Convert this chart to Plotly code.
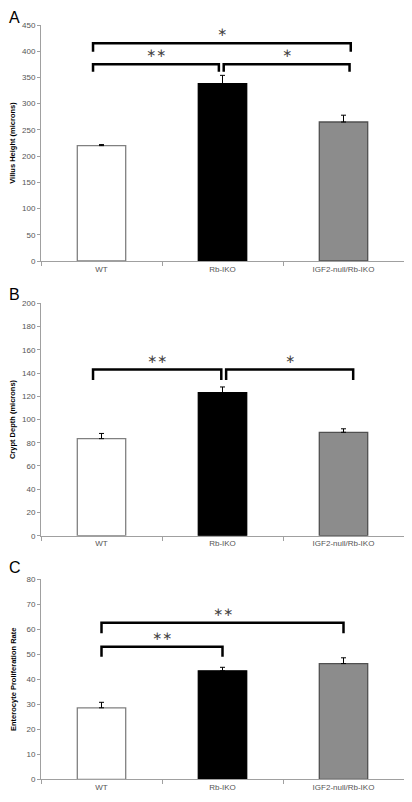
import plotly.graph_objects as go
from plotly.subplots import make_subplots

categories = ["WT", "Rb-IKO", "IGF2-null/Rb-IKO"]

villus_height = [220, 338, 265]
villus_err = [2, 16, 13]

crypt_depth = [83.5, 123, 89]
crypt_err = [4.5, 5, 3]

prolif_rate = [28.6, 43.4, 46.3]
prolif_err = [2.2, 1.4, 2.3]

# significance comparisons: (x_start, x_end, bracket_level, leg_bottom, label)
comparisons_a = [(-0.07, 2.06, 415, 399, "*"),
                 (-0.07, 0.97, 375, 361, "**"),
                 (1.01, 2.05, 375, 361, "*")]
comparisons_b = [(-0.07, 0.99, 143, 134, "**"),
                 (1.03, 2.08, 143, 134, "*")]
comparisons_c = [(0, 2, 62.6, 58.4, "**"),
                 (0, 1, 53, 49, "**")]

panels = [
    dict(vals=villus_height, err=villus_err, title="Villus Height (microns)",
         ymax=450, dtick=50, comps=comparisons_a, letter="A"),
    dict(vals=crypt_depth, err=crypt_err, title="Crypt Depth (microns)",
         ymax=200, dtick=20, comps=comparisons_b, letter="B"),
    dict(vals=prolif_rate, err=prolif_err, title="Enterocyte Proliferation Rate",
         ymax=80, dtick=10, comps=comparisons_c, letter="C"),
]

fills = ["#ffffff", "#000000", "#8c8c8c"]
outlines = ["#808080", "#000000", "#505050"]

OFF = 8  # page body margin
W, H = 412 - OFF, 802 - OFF
# pixel positions (in the window) of plot areas (top, bottom)
ypix = [(25, 261), (303.3, 535.7), (579.3, 779.3)]
letter_top = [6, 285, 558]
xdom = [(41 - OFF) / W, (404 - OFF) / W]

fig = make_subplots(rows=3, cols=1)
xs = [0, 1, 2]
font_family = "Liberation Sans, Arial, sans-serif"

for i, p in enumerate(panels):
    r = i + 1
    fig.add_trace(go.Bar(
        x=xs, y=p["vals"], width=0.4,
        marker=dict(color=fills, line=dict(color=outlines, width=1.3)),
        error_y=dict(type="data", array=p["err"], arrayminus=[0, 0, 0],
                     symmetric=False, color="#000000", thickness=1, width=2.5),
        showlegend=False,
    ), row=r, col=1)
    top, bot = ypix[i]
    top -= OFF
    bot -= OFF
    sfx = "" if i == 0 else str(i + 1)
    fig.layout["xaxis" + sfx].update(
        domain=xdom, range=[-0.5, 2.5], tickvals=xs, ticktext=categories,
        ticks="", showline=True, linecolor="#a0a0a0", linewidth=1,
        tickfont=dict(size=8, color="#555", family=font_family),
        showgrid=False, zeroline=False, automargin=False,
        minor=dict(tickvals=[-0.5, 0.5, 1.5, 2.5], ticks="outside",
                   ticklen=4, tickcolor="#a0a0a0", tickwidth=1),
    )
    fig.layout["yaxis" + sfx].update(
        domain=[1 - bot / H, 1 - top / H], range=[0, p["ymax"]], dtick=p["dtick"],
        showline=True, linecolor="#a0a0a0", linewidth=1,
        ticks="outside", ticklen=3, tickcolor="#a0a0a0",
        tickfont=dict(size=8, color="#555", family=font_family),
        showgrid=False, zeroline=False, automargin=False,
        title=dict(text="<b>" + p["title"] + "</b>", standoff=8,
                   font=dict(size=7.5, color="#000", family=font_family)),
    )
    xref = "x" + sfx
    yref = "y" + sfx
    for (x0, x1, lvl, leg, lab) in p["comps"]:
        fig.add_shape(type="path",
                      path=f"M {x0} {leg} L {x0} {lvl} L {x1} {lvl} L {x1} {leg}",
                      xref=xref, yref=yref,
                      line=dict(color="#000", width=2.5))
        fig.add_annotation(x=(x0 + x1) / 2, y=lvl, xref=xref, yref=yref,
                           text=lab.replace("*", "∗"), showarrow=False,
                           yanchor="bottom", yshift=2,
                           font=dict(size=12, color="#444", family="DejaVu Sans"))
    fig.add_annotation(x=0, y=1 - max(letter_top[i] - OFF, 0) / H,
                       xref="paper", yref="paper",
                       text=p["letter"], showarrow=False, xanchor="left",
                       yanchor="top", borderpad=0,
                       font=dict(size=16, color="#000", family=font_family))

fig.update_layout(
    width=W, height=H, margin=dict(l=0, r=0, t=0, b=0),
    plot_bgcolor="#ffffff", paper_bgcolor="#ffffff",
    bargap=0.6,
)

fig.write_html("out.html")
